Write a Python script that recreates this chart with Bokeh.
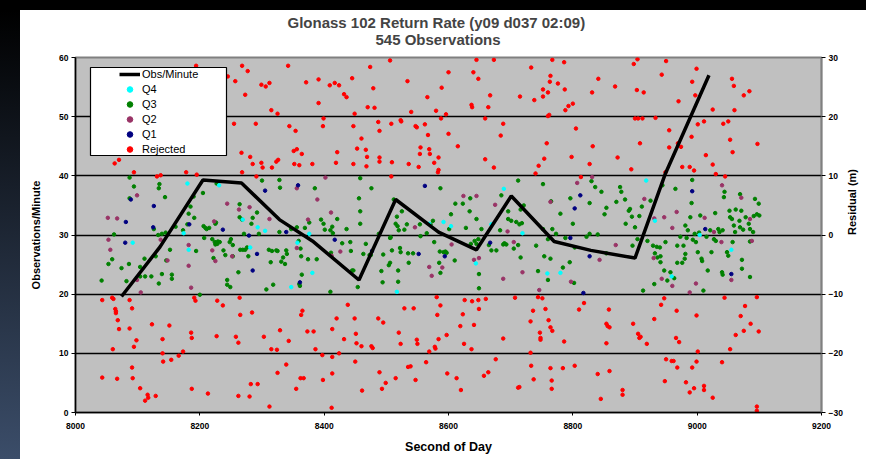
import math
from bokeh.plotting import figure
from bokeh.models import (Range1d, LinearAxis, SingleIntervalTicker, FixedTicker,
                          Title, Legend, LegendItem, Div, BoxAnnotation)
from bokeh.layouts import column, row
from bokeh.embed import file_html
from bokeh.resources import INLINE

# ---------------- data ----------------
minute_s = [8074, 8136, 8205, 8267, 8328, 8381, 8456, 8515, 8584, 8645, 8701, 8770, 8829, 8900, 8949, 9019]
minute_obs = [19.6, 28.0, 39.3, 38.8, 32.6, 29.0, 22.4, 36.0, 30.5, 27.5, 36.6, 28.9, 27.4, 26.1, 40.4, 57.0]

rejected = [
    (8194, 28.6), (8245, 26.8), (8257, 26.0), (8268, 28.6), (8277, 27.7), (8273, 23.7), (8255, 18.8), (8290, 18.8), (8267, 13.9), (8281, 13.2),
    (8285, 12.0), (8299, 12.2), (8301, 11.4), (8316, 11.4), (8323, 12.4), (8326, 12.7), (8299, 25.4), (8306, 25.1), (8312, 25.7), (8315, 21.1),
    (8325, 20.5), (8342, 28.6), (8344, 18.4), (8354, 17.6), (8351, 14.2), (8356, 14.5), (8364, 13.7), (8352, 12.0), (8360, 11.8), (8381, 12.0),
    (8371, 25.8), (8391, 26.3), (8391, 22.3), (8399, 19.7), (8398, 18.4), (8409, 25.3), (8417, 25.7), (8424, 25.3), (8432, 23.8), (8436, 23.3),
    (8445, 26.5), (8447, 18.4), (8449, 20.5), (8453, 14.6), (8447, 12.0), (8460, 16.3), (8467, 14.4), (8469, 13.2), (8468, 11.6), (8470, 21.6),
    (8474, 28.4), (8479, 24.8), (8481, 21.5), (8487, 19.1), (8489, 17.6), (8489, 13.1), (8489, 12.4), (8506, 29.5), (8508, 18.8), (8508, 9.9),
    (8509, 12.3), (8523, 19.4), (8524, 19.2), (8534, 26.0), (8536, 12.0), (8540, 20.8), (8547, 18.4), (8549, 18.2), (8552, 11.5), (8554, 13.7),
    (8555, 14.8), (8562, 18.7), (8566, 23.3), (8567, 16.9), (8569, 14.5), (8570, 13.7), (8577, 12.2), (8580, 21.0), (8583, 10.6), (8584, 11.0),
    (8584, 13.1), (8588, 19.7), (8589, 24.9), (8596, 20.4), (8600, 27.5), (8600, 17.1), (8615, 15.0), (8419, 12.2), (8421, 14.0), (8063, 12.1),
    (8070, 12.7), (8094, 10.6), (8131, 9.9), (8137, 10.1), (8178, 10.6), (8195, 10.2), (8268, 10.6), (8291, 9.9),
    (8043, -11.0), (8059, -10.6), (8061, -10.8), (8064, -12.5), (8065, -12.9), (8065, -13.2), (8068, -14.4), (8070, -15.9), (8060, -19.3), (8043, -24.1),
    (8067, -24.3), (8087, -11.0), (8091, -12.4), (8087, -15.8), (8098, -17.8), (8094, -18.9), (8091, -22.4), (8092, -24.2), (8104, -25.9), (8112, -28.0),
    (8116, -27.0), (8117, -27.5), (8129, -27.2), (8123, -15.1), (8140, -17.6), (8140, -20.0), (8141, -21.4), (8151, -15.3), (8154, -21.1), (8166, -20.4),
    (8173, -19.7), (8186, -16.5), (8187, -17.4), (8187, -26.0), (8191, -10.6), (8193, -11.1), (8213, -26.8), (8228, -11.1), (8227, -17.1), (8237, -11.9),
    (8258, -17.2), (8262, -18.2), (8264, -10.6), (8265, -13.5), (8262, -27.2), (8280, -27.3), (8282, -25.2), (8284, -13.1), (8293, -25.2), (8303, -17.2),
    (8312, -29.0), (8315, -19.3), (8324, -19.4), (8325, -23.3), (8329, -16.1), (8339, -21.9), (8343, -17.9), (8355, -26.0), (8362, -24.2), (8367, -24.2),
    (8363, -13.5), (8365, -12.8), (8373, -16.3), (8383, -16.3), (8386, -19.3), (8397, -20.3), (8398, -24.5), (8412, -29.2), (8413, -20.6), (8413, -15.9),
    (8413, -23.4), (8420, -14.1), (8424, -20.0), (8432, -17.6), (8438, -11.8), (8449, -14.1), (8450, -21.4), (8451, -16.7), (8452, -18.3), (8460, -18.8),
    (8461, -26.3), (8476, -18.8), (8478, -19.1), (8487, -14.1), (8489, -23.2), (8495, -14.8), (8493, -26.0), (8499, -25.0), (8515, -24.2), (8520, -16.5),
    (8523, -18.4), (8529, -12.4), (8535, -22.3), (8539, -22.2), (8544, -12.4), (8547, -24.5), (8549, -17.7), (8550, -18.4), (8564, -21.5), (8569, -19.7),
    (8578, -18.9), (8579, -19.2), (8581, -10.5), (8582, -13.5), (8587, -11.9), (8584, -17.6), (8597, -16.9), (8598, -23.4), (8613, -24.2),
    (8645, 29.6), (8673, 29.6), (8640, 27.5), (8648, 26.4), (8667, 23.6), (8664, 21.6), (8659, 19.7), (8637, 22.0), (8638, 21.6), (8659, 12.8),
    (8673, 11.4), (8684, 16.8), (8688, 18.8), (8715, 23.4), (8733, 28.3), (8752, 24.6), (8752, 23.4), (8760, 24.1), (8763, 25.9), (8764, 26.9),
    (8767, 29.6), (8776, 25.6), (8786, 29.2), (8787, 24.6), (8788, 21.1), (8793, 21.8), (8800, 22.2), (8738, 22.8), (8740, 10.4), (8745, 11.7),
    (8754, 12.9), (8758, 15.5), (8760, 20.1), (8762, 20.3), (8798, 13.2), (8805, 18.0), (8813, 9.8), (8827, 12.0), (8832, 15.0), (8831, 24.1),
    (8841, 26.4), (8872, 13.1), (8868, 25.1), (8894, 11.1), (8898, 28.9), (8904, 29.7), (8903, 24.5), (8900, 19.7), (8905, 19.7), (8912, 19.7),
    (8908, 15.5), (8914, 24.1), (8933, 19.8), (8943, 27.1), (8950, 29.4), (8955, 17.7), (8955, 14.8), (8949, 10.6), (8969, 15.5), (8974, 14.9),
    (8970, 22.6), (8976, 11.5), (8988, 11.5), (8992, 25.9), (8991, 16.6), (8995, 10.9), (8997, 23.6), (8999, 28.1), (9001, 18.7), (9011, 19.2),
    (9014, 13.5), (9025, 21.2), (9025, 11.9), (9030, 10.3), (9042, 18.8), (9050, 19.2), (9053, 16.1), (9056, 26.4), (9059, 25.2), (9057, 14.0),
    (9060, 21.1), (9075, 23.6), (9084, 24.3), (9097, 15.4), (9045, 9.9),
    (8626, -11.0), (8638, -11.2), (8648, -11.0), (8660, -10.8), (8649, -12.5), (8641, -15.2), (8623, -13.4), (8619, -15.4), (8625, -18.4), (8637, -19.3),
    (8676, -21.0), (8688, -17.5), (8657, -23.8), (8664, -23.2), (8620, -26.2), (8707, -10.6), (8712, -25.8), (8714, -25.7), (8732, -19.9), (8733, -22.1),
    (8737, -24.4), (8732, -14.6), (8744, -10.5), (8736, -12.8), (8747, -16.5), (8748, -17.4), (8748, -17.7), (8751, -10.7), (8756, -12.5), (8761, -14.4),
    (8764, -15.6), (8767, -16.2), (8764, -22.5), (8766, -24.6), (8766, -26.0), (8784, -22.5), (8786, -18.0), (8803, -22.1), (8810, -12.6), (8818, -11.5),
    (8840, -23.5), (8845, -27.7), (8854, -15.0), (8856, -15.4), (8854, -18.3), (8859, -23.0), (8858, -12.6), (8859, -15.6), (8880, -26.2), (8880, -27.0),
    (8897, -15.0), (8905, -16.7), (8907, -17.4), (8909, -17.2), (8919, -18.4), (8931, -14.2), (8942, -11.8), (8947, -10.7), (8950, -21.0), (8948, -24.7),
    (8959, -21.3), (8962, -21.3), (8967, -12.8), (8968, -22.4), (8966, -17.4), (8971, -18.1), (8982, -24.9), (8988, -26.6), (8992, -22.4), (8995, -25.9),
    (8999, -21.4), (8999, -13.6), (9001, -19.7), (9011, -25.5), (9011, -26.2), (9025, -27.5), (9040, -21.5), (9044, -10.6), (9053, -19.3), (9062, -16.9),
    (9070, -13.7), (9075, -16.2), (9077, -12.0), (9086, -15.0), (9096, -10.5), (9099, -16.3), (9096, -29.0), (9096, -29.7),
]

q3 = [
    (8042, -7.7), (8053, -4.9), (8059, -4.1), (8062, 0.1), (8074, -5.6), (8082, -7.8), (8086, -4.9), (8087, 9.7), (8087, 6.2), (8094, 8.2),
    (8104, -7.0), (8104, -5.4), (8112, -7.0), (8111, -4.0), (8122, -7.0), (8126, 1.0), (8129, -3.6), (8134, -8.2), (8133, 0.0), (8134, 7.9),
    (8135, 8.6), (8139, -6.6), (8139, 0.2), (8145, 0.4), (8144, 6.4), (8146, -4.3), (8152, -2.5), (8155, -6.7), (8155, -7.4), (8161, 1.4),
    (8173, 0.8), (8180, 1.8), (8182, 3.6), (8185, 4.8), (8191, 2.9), (8190, 6.5), (8194, -2.7), (8200, -10.1), (8206, 1.5), (8205, 7.1),
    (8207, -0.5), (8209, 1.2), (8211, 1.0), (8215, 1.2), (8220, -0.7), (8222, -3.9), (8224, -1.2), (8225, -1.6), (8225, 1.9), (8226, 2.1),
    (8227, 8.7), (8228, -1.5), (8229, -1.1), (8232, -1.2), (8238, -2.6), (8241, -3.4), (8244, -7.6), (8244, -8.4), (8249, -8.8), (8248, -1.2),
    (8250, -0.7), (8253, -1.7), (8253, -3.6), (8262, -6.3), (8264, 5.2), (8264, 3.0), (8265, -2.5), (8269, -2.5), (8271, 0.2), (8268, 2.6),
    (8273, -2.5), (8276, -2.1), (8278, -3.6), (8283, 1.9), (8285, 2.9), (8292, 3.8), (8295, 0.2), (8300, 9.2), (8307, -9.2), (8311, -2.5),
    (8314, -4.6), (8316, -2.7), (8318, -8.4), (8323, -2.6), (8325, -2.7), (8328, 0.5), (8328, 9.3), (8329, 8.0), (8331, -4.5), (8334, -3.8),
    (8337, -4.9), (8339, -2.6), (8340, -3.2), (8347, 1.0), (8356, 1.3), (8359, -1.0), (8360, -8.3), (8361, -8.6), (8362, -2.3), (8363, -3.6),
    (8364, -6.7), (8369, 1.2), (8374, -4.1), (8376, 2.1), (8385, 7.9), (8388, -4.1), (8395, 2.6), (8399, 1.9), (8401, 0.9), (8410, 0.8),
    (8411, -3.0), (8410, -9.6), (8413, 1.4), (8414, 0.3), (8421, 2.7), (8429, -1.4), (8436, 1.0), (8442, -1.2), (8443, -2.7), (8445, -6.0),
    (8447, -6.0), (8454, -8.8), (8456, 6.2), (8458, 9.6), (8458, 1.9), (8458, 4.0), (8463, -3.2), (8467, -1.5), (8473, -3.4), (8475, -3.4),
    (8476, 7.9), (8488, 0.2), (8492, -6.1), (8494, -8.0), (8495, -3.3), (8504, -5.1), (8506, -4.7), (8506, -0.5), (8507, -0.4), (8509, -2.6),
    (8512, 6.0), (8515, 1.9), (8517, 3.1), (8518, 1.5), (8519, -7.9), (8519, -6.0), (8520, 0.8), (8522, -2.2), (8523, -2.9), (8529, 0.9),
    (8525, 4.0), (8533, 1.8), (8535, -3.1), (8536, -4.7), (8543, -3.1), (8555, -0.2), (8554, 1.8), (8565, 0.3), (8571, 1.8), (8575, 2.4),
    (8577, -1.2), (8585, -4.7), (8587, 7.9), (8586, -2.8), (8587, -6.4), (8592, -2.9), (8595, -2.8), (8597, -3.0), (8601, 1.0), (8604, 3.5),
    (8611, 5.3), (8610, -4.3),
    (8623, 5.3), (8628, 1.2), (8634, 4.0), (8635, 6.2), (8636, -1.5), (8642, -1.0), (8645, 2.7), (8645, -1.5), (8648, -0.7), (8649, -9.0),
    (8649, -6.6), (8653, 1.0), (8665, -1.7), (8669, -2.6), (8677, -2.6), (8683, 0.8), (8685, 6.7), (8688, -1.6), (8690, -1.4), (8693, -1.6),
    (8696, 4.0), (8696, 2.7), (8701, 2.4), (8705, -2.3), (8709, 2.2), (8712, -1.7), (8714, 1.8), (8712, 9.2), (8716, 4.3), (8716, -3.8),
    (8718, 2.0), (8721, 5.0), (8741, -1.8), (8744, -6.1), (8752, 8.6), (8752, 1.0), (8754, -3.6), (8760, -7.6), (8760, -0.7), (8765, 5.7),
    (8767, 1.0), (8764, -4.0), (8773, 0.2), (8780, 3.6), (8784, -5.5), (8788, -0.5), (8795, -4.6), (8796, 6.2), (8800, 1.9), (8802, -8.1),
    (8803, -2.1), (8822, -0.3), (8827, 0.2), (8827, 5.4), (8830, 9.1), (8836, 8.1), (8840, 0.1), (8846, 7.3), (8851, 3.5), (8854, 4.6),
    (8854, -3.1), (8870, 5.6), (8876, 8.1), (8878, 7.3), (8884, 6.0), (8885, 1.9), (8890, 4.1), (8892, 4.4), (8895, 3.1), (8896, -1.8),
    (8900, 1.3), (8904, -0.7), (8907, 3.2), (8911, 4.8), (8913, -9.4), (8920, -1.0), (8925, 5.8), (8929, -1.8), (8931, -8.3), (8932, -3.1),
    (8935, -2.0), (8936, -3.8), (8940, -2.1), (8941, -3.6), (8941, -4.6), (8944, 8.4), (8947, -6.0), (8949, -1.2), (8952, -7.7), (8957, -6.3),
    (8963, -7.3), (8965, 7.8), (8968, -1.8), (8968, -4.7), (8973, -0.3), (8978, -1.8), (8976, -4.7), (8980, -4.0), (8981, 1.6), (8981, -3.2),
    (8983, -0.5), (8985, 0.8), (8989, 3.0), (8991, 5.4), (8992, 9.3), (8993, -0.8), (8996, 0.2), (8998, -1.2), (9001, -2.9), (9003, 0.4),
    (9005, 3.3), (9007, -4.0), (9008, -4.4), (9010, -9.4), (9015, -0.3), (9017, -6.0), (9021, 0.8), (9023, -2.9), (9027, -0.7), (9029, 3.7),
    (9030, -1.0), (9034, 1.0), (9036, 0.5), (9040, -6.3), (9041, -6.7), (9041, 0.8), (9043, 6.4), (9044, 7.3), (9048, -2.9), (9050, -3.5),
    (9052, 4.1), (9053, 3.0), (9056, 2.7), (9057, -1.2), (9061, 0.5), (9059, 1.6), (9062, 4.3), (9068, 2.4), (9069, 6.9), (9069, 1.3),
    (9071, 4.1), (9072, -4.2), (9072, -5.7), (9074, 0.9), (9078, 3.0), (9083, 1.9), (9085, -7.1), (9085, 1.0), (9085, -1.1), (9091, 3.2),
    (9093, 6.1), (9096, 3.5), (9099, 5.3), (9100, 3.3), (9090, 0.5),
]

q2 = [
    (8052, 2.9), (8067, 2.8), (8053, -0.8), (8056, -2.5), (8099, -7.6), (8105, -9.7), (8099, 6.7), (8137, -0.8), (8148, -4.3), (8182, -1.7),
    (8182, -5.2), (8186, -8.9), (8220, -2.6), (8225, -4.4), (8223, 2.3), (8244, 5.3), (8252, -3.6), (8263, 4.3), (8280, 4.7), (8312, 2.7),
    (8356, 7.9), (8356, -2.2), (8374, 2.6), (8389, 6.0), (8402, 9.7), (8412, -3.5), (8411, 3.8), (8426, -2.8), (8546, 1.3), (8569, -5.4),
    (8573, -6.9), (8605, -1.6), (8590, -5.5),
    (8624, 6.6), (8645, 6.6), (8641, -4.2), (8649, -3.9), (8675, 5.1), (8688, -7.4), (8695, 0.6), (8705, -1.2), (8719, -6.3), (8746, -9.3),
    (8764, 5.6), (8797, -7.9), (8807, 8.8), (8831, 9.8), (8843, -4.2), (8869, -1.7), (8915, 6.1), (8930, -3.9), (8931, 2.8), (8947, 3.0),
    (8943, -7.4), (8960, 1.2), (8960, -8.6), (8967, 3.9), (8988, -9.7), (8998, -8.2), (9012, 2.9), (9027, 0.5), (9039, -1.2), (9040, 8.4),
    (9055, -7.6), (9071, 6.3), (9085, 2.7), (9088, -1.0),
]

q1 = [
    (8081, 2.2), (8080, -1.3), (8089, 6.0), (8126, 4.9), (8125, 1.3), (8183, 1.8), (8237, 0.9), (8279, -0.1), (8292, -3.2), (8285, -6.0),
    (8305, 7.5), (8339, 0.5), (8358, 8.4), (8361, -8.0), (8417, -0.8), (8477, -2.7), (8562, 8.3), (8552, -3.2), (8594, -3.6),
    (8667, -1.3), (8803, 4.5), (8812, 6.7), (8796, -0.5), (8827, -3.6), (8817, -9.8), (8992, 7.4), (9013, 1.0), (9055, -6.6),
]

q4 = [
    (8092, -1.3), (8174, 0.3), (8182, -2.5), (8180, 8.7), (8231, 8.4), (8269, 2.6), (8281, -2.1), (8293, 1.3), (8305, 0.7), (8347, -8.8),
    (8357, -1.3), (8376, 0.2), (8381, -6.4), (8517, -9.6), (8569, 1.9), (8592, 2.2), (8604, 1.5),
    (8644, -4.8), (8669, 1.8), (8689, 7.8), (8719, 0.3), (8759, -6.5), (8780, -6.4), (8918, 9.2), (8932, 2.4), (8959, -7.0), (9004, 0.0), (9055, -2.5),
]

left_ticks_interval = 10
bottom_ticks_interval = 200
title_main = "Glonass 102 Return Rate (y09 d037 02:09)"
title_sub = "545 Observations"

FONT = "Liberation Sans"

# ---------------- figure ----------------
p = figure(width=846, height=449, x_range=Range1d(8000, 9200), y_range=Range1d(0, 60),
           output_backend="svg", toolbar_location=None, title=None,
           min_border_left=55, min_border_right=40, min_border_top=47, min_border_bottom=47,
           background_fill_color="#c0c0c0", border_fill_color="white")
p.extra_y_ranges = {"res": Range1d(-30, 30)}
p.outline_line_color = "#808080"
p.outline_line_width = 2

p.xgrid.visible = False
p.ygrid.ticker = FixedTicker(ticks=[10, 20, 30, 40, 50])
p.ygrid.grid_line_color = "black"
p.ygrid.grid_line_width = 1.4

def style_axis(ax, line_color="black"):
    ax.axis_line_color = line_color
    ax.axis_line_width = 1.5
    ax.major_tick_line_color = "black"
    ax.major_tick_line_width = 1
    ax.major_tick_out = 4
    ax.major_tick_in = 0
    ax.minor_tick_line_color = None
    ax.major_label_text_font = FONT
    ax.major_label_text_font_size = "8.5px"
    ax.major_label_text_font_style = "bold"
    ax.major_label_text_color = "black"
    ax.axis_label_text_font = FONT
    ax.axis_label_text_font_style = "bold"
    ax.axis_label_text_color = "black"

yl = p.yaxis[0]
yl.ticker = SingleIntervalTicker(interval=left_ticks_interval)
yl.axis_label = "Observations/Minute"
style_axis(yl)
yl.axis_label_text_font_size = "11px"
yl.major_label_standoff = 3
yl.axis_label_standoff = 14

xb = p.xaxis[0]
xb.ticker = SingleIntervalTicker(interval=bottom_ticks_interval)
xb.axis_label = "Second of Day"
style_axis(xb)
xb.axis_label_text_font_size = "12.5px"
xb.major_tick_out = 3
xb.major_label_standoff = 6
xb.axis_label_standoff = 8

yr = LinearAxis(y_range_name="res", ticker=SingleIntervalTicker(interval=left_ticks_interval),
                axis_label="Residual (m)")
style_axis(yr, line_color="#808080")
yr.axis_label_text_font_size = "11px"
yr.major_label_standoff = 3
yr.axis_label_standoff = 6
yr.axis_label_orientation = math.pi / 2
p.add_layout(yr, "right")

t_sub = Title(text=title_sub, align="left", offset=300, text_font=FONT, text_font_size="15px",
              text_font_style="bold", standoff=-3)
try:
    t_sub.padding = dict(top=0, right=0, bottom=11, left=0)
except Exception:
    t_sub.standoff = 11
p.add_layout(t_sub, "above")
p.add_layout(Title(text=title_main, align="left", offset=212, text_font=FONT, text_font_size="15px",
                   text_font_style="bold", standoff=0), "above")

def xs(pts):
    return [a for a, _ in pts]

def ys(pts):
    return [b for _, b in pts]

MS = 3.5
r_rej = p.scatter(xs(rejected), ys(rejected), y_range_name="res", marker="circle", size=MS,
                  fill_color="#ff0000", line_color="#ff0000")
r_q3 = p.scatter(xs(q3), ys(q3), y_range_name="res", marker="circle", size=MS,
                 fill_color="#008000", line_color="#008000")
r_q2 = p.scatter(xs(q2), ys(q2), y_range_name="res", marker="circle", size=MS,
                 fill_color="#993366", line_color="#993366")
r_q1 = p.scatter(xs(q1), ys(q1), y_range_name="res", marker="circle", size=MS,
                 fill_color="#000080", line_color="#000080")
r_q4 = p.scatter(xs(q4), ys(q4), y_range_name="res", marker="circle", size=MS,
                 fill_color="#00ffff", line_color="#00ffff")
r_line = p.line(minute_s, minute_obs, line_color="black", line_width=3.5)

# legend frame (screen units, measured from frame's bottom-left)
legend_box = BoxAnnotation(left=15, right=151, bottom=257, top=345,
                           left_units="screen", right_units="screen",
                           bottom_units="screen", top_units="screen",
                           fill_color="white", fill_alpha=1.0,
                           line_color="black", line_alpha=1.0, line_width=1.2)
p.add_layout(legend_box)

legend = Legend(items=[
    LegendItem(label="Obs/Minute", renderers=[r_line]),
    LegendItem(label="Q4", renderers=[r_q4]),
    LegendItem(label="Q3", renderers=[r_q3]),
    LegendItem(label="Q2", renderers=[r_q2]),
    LegendItem(label="Q1", renderers=[r_q1]),
    LegendItem(label="Rejected", renderers=[r_rej]),
], location=(44, 256))
legend.padding = 0
legend.margin = 0
legend.spacing = 1
legend.label_height = 14
legend.glyph_height = 14
legend.glyph_width = 21
legend.label_standoff = 2
legend.label_text_font = FONT
legend.label_text_font_size = "11px"
legend.label_text_color = "black"
legend.border_line_color = None
legend.background_fill_alpha = 0.0
p.add_layout(legend)

top_band = Div(text="", width=866, height=10, margin=0, styles={"background-color": "#000000"})
left_band = Div(text="", width=20, height=449, margin=0,
                styles={"background": "linear-gradient(#000000, #3b4d69)"})
layout = column(top_band, row(left_band, p, spacing=0), spacing=0)

open("out.html", "w").write(file_html(layout, INLINE))
